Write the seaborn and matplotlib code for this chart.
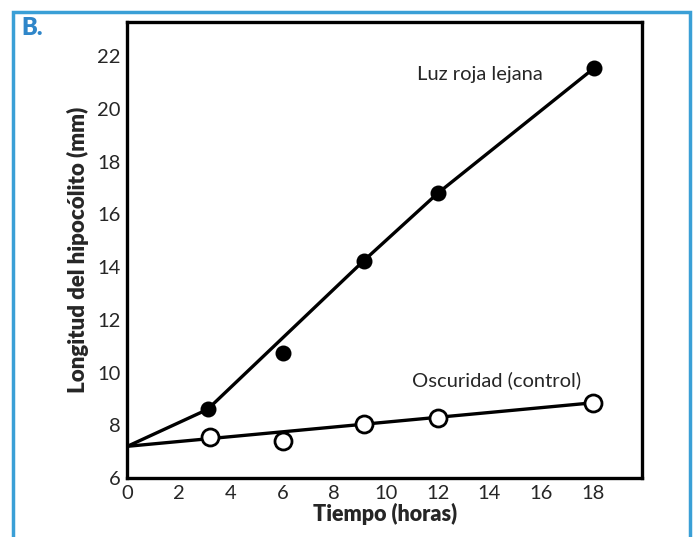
import matplotlib.pyplot as plt
import seaborn as sns
import pandas as pd
from matplotlib.patches import Rectangle

# Measured hypocotyl length (mm) vs time (hours)
tiempo_luz = [3.1, 6.0, 9.15, 12.0, 18.05]
longitud_luz = [8.6, 10.75, 14.25, 16.8, 21.55]
tiempo_osc = [3.2, 6.0, 9.15, 12.0, 18.0]
longitud_osc = [7.55, 7.4, 8.05, 8.28, 8.85]

# Hand-drawn trend lines from the original figure
ajuste_luz_x = [0, 3.1, 9.15, 12.0, 18.05]
ajuste_luz_y = [7.2, 8.6, 14.25, 16.8, 21.55]
ajuste_osc_x = [0, 18.0]
ajuste_osc_y = [7.2, 8.85]

x_ticks = [0, 2, 4, 6, 8, 10, 12, 14, 16, 18]
y_ticks = [6, 8, 10, 12, 14, 16, 18, 20, 22]

df_luz = pd.DataFrame({"Tiempo": tiempo_luz, "Longitud": longitud_luz})
df_osc = pd.DataFrame({"Tiempo": tiempo_osc, "Longitud": longitud_osc})

sns.set_style("white")
plt.rcParams["font.family"] = ["Lato", "DejaVu Sans"]

fig = plt.figure(figsize=(7, 5.37), dpi=100)
ax = fig.add_axes([0.182, 0.110, 0.735, 0.849])

# fit lines
ax.plot(ajuste_luz_x, ajuste_luz_y, color="black", lw=2.4, zorder=2)
ax.plot(ajuste_osc_x, ajuste_osc_y, color="black", lw=2.4, zorder=2)

# points
sns.scatterplot(data=df_luz, x="Tiempo", y="Longitud", ax=ax, color="black",
                s=100, edgecolor="black", linewidth=1.5, zorder=3)
sns.scatterplot(data=df_osc, x="Tiempo", y="Longitud", ax=ax, facecolor="white",
                s=150, edgecolor="black", linewidth=2, zorder=3)

ax.set_xlim(0, 19.9)
ax.set_ylim(6, 23.3)
ax.set_xticks(x_ticks)
ax.set_yticks(y_ticks)
ax.tick_params(direction="in", length=8, width=2, labelsize=14.5, pad=5)
for s in ax.spines.values():
    s.set_linewidth(2.4)
    s.set_color("black")

ax.set_xlabel("Tiempo (horas)", fontsize=15.5, fontweight="heavy", labelpad=1)
ax.set_ylabel("Longitud del hipocólito (mm)", fontsize=16, fontweight="heavy", labelpad=6)

ax.text(11.2, 21.3, "Luz roja lejana", fontsize=14.5, va="center", ha="left")
ax.text(11.0, 9.7, "Oscuridad (control)", fontsize=14.5, va="center", ha="left")

# blue frame and panel letter
fig.patches.append(Rectangle((0.018, -0.05), 0.967, 1.028, transform=fig.transFigure,
                             fill=False, edgecolor="#3a9fd6", linewidth=2.5))
fig.text(0.03, 0.935, "B.", color="#2f86c9", fontsize=17, fontweight="heavy")

plt.savefig("out.png", dpi=100)
